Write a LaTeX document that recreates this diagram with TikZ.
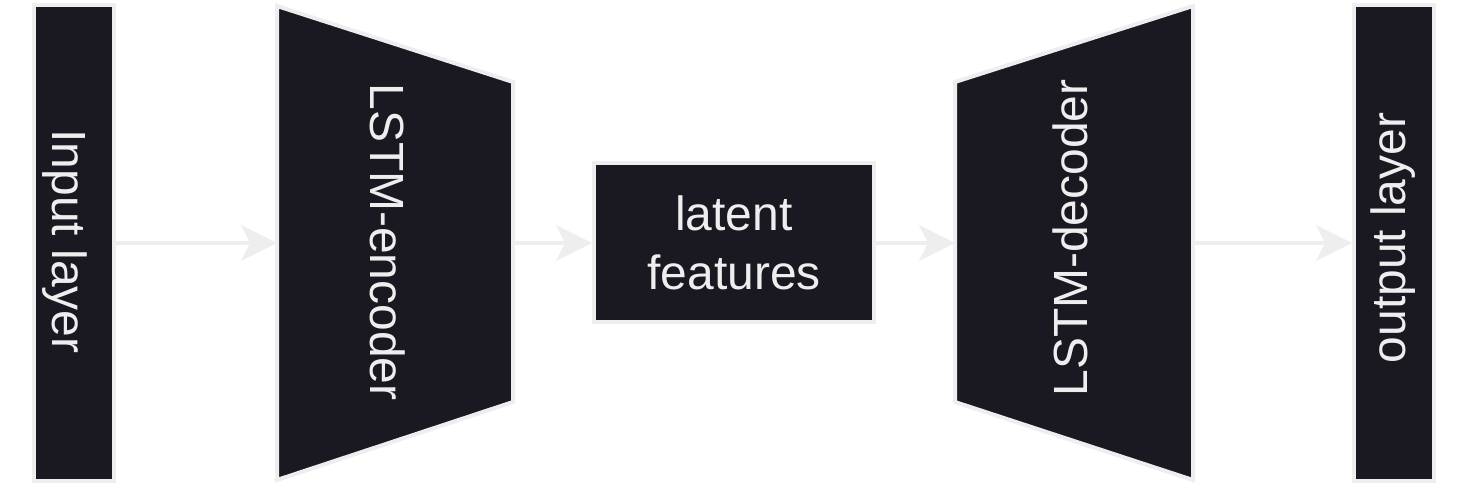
\documentclass[tikz,border=0pt]{standalone}
\usepackage{fontspec}
\setmainfont{Liberation Sans}
\usepackage{tikz}
\usetikzlibrary{arrows.meta}
\definecolor{layerfill}{HTML}{1A1820}
\definecolor{edgegray}{HTML}{EEEEEE}

\begin{document}
\begin{tikzpicture}[>={Stealth[length=0.72cm, width=0.72cm, inset=0.18cm]},
    layer/.style={draw=edgegray, fill=layerfill, line width=0.08cm, inner sep=0pt},
    lbl/.style={text=edgegray, inner sep=0pt, font=\fontsize{27.3}{33.6}\selectfont},
    link/.style={->, draw=edgegray, line width=0.07cm}]
    \useasboundingbox (0,0) rectangle (29.36,9.76);

    \node[layer, minimum width=1.6cm, minimum height=9.52cm] (in) at (1.48,4.9) {};
    \node[lbl, rotate=-90] (in-text) at (1.30,4.93) {Input layer};

    \draw[layer] (5.54,9.64) -- (10.26,8.12) -- (10.26,1.72) -- (5.54,0.16) -- cycle;
    \coordinate (enc-w) at (5.54,4.9);
    \coordinate (enc-e) at (10.26,4.9);
    \node[lbl, rotate=-90] (enc) at (7.76,4.92) {LSTM-encoder};

    \node[layer, lbl, align=center, minimum width=5.6cm, minimum height=3.18cm] (lat) at (14.68,4.9) {latent\\features};

    \draw[layer] (19.10,8.12) -- (23.86,9.64) -- (23.86,0.16) -- (19.10,1.72) -- cycle;
    \coordinate (dec-w) at (19.10,4.9);
    \coordinate (dec-e) at (23.86,4.9);
    \node[lbl, rotate=90] (dec) at (21.40,5.0) {LSTM-decoder};

    \node[layer, minimum width=1.6cm, minimum height=9.52cm] (out) at (27.88,4.9) {};
    \node[lbl, rotate=90] (out-text) at (27.86,5.0) {output layer};

    \draw[link] (in) -- (enc-w);
    \draw[link] (enc-e) -- (lat);
    \draw[link] (lat) -- (dec-w);
    \draw[link] (dec-e) -- (out);
\end{tikzpicture}
\end{document}
